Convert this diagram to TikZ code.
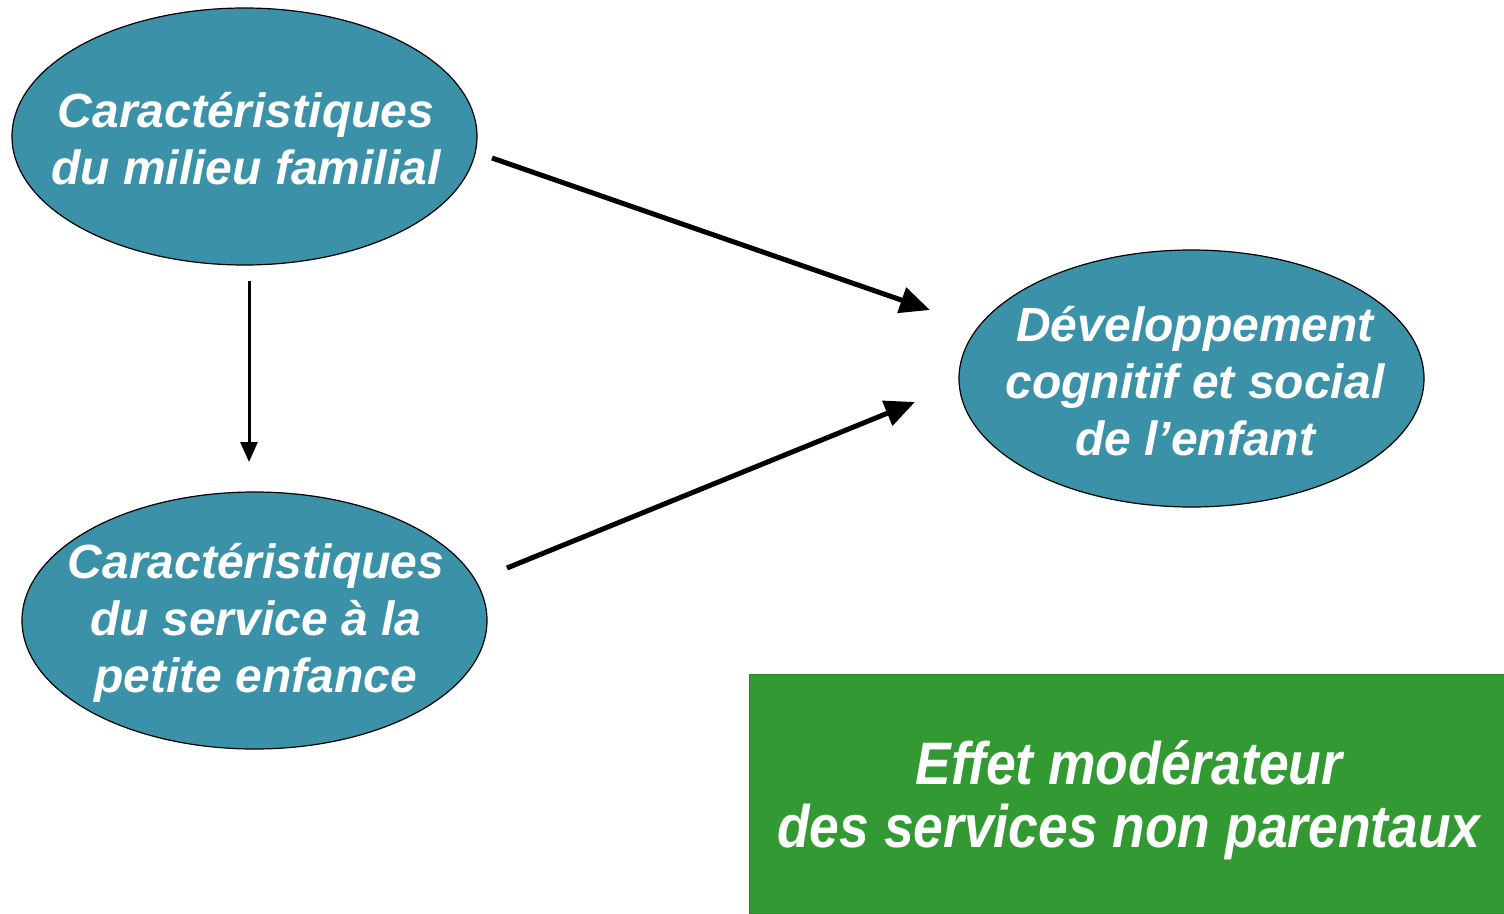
\documentclass[tikz,border=0pt]{standalone}
\usepackage{fontspec}
\setmainfont{Liberation Sans}
\newfontfamily\narrowfont[FakeStretch=0.89]{Liberation Sans}
\usetikzlibrary{shapes.geometric,arrows.meta}
\definecolor{teal1}{HTML}{3A91A8}
\definecolor{green1}{HTML}{339933}
\definecolor{green2}{HTML}{2A8A2A}
\tikzset{
  oval/.style={ellipse, draw=black, line width=1.2pt, fill=teal1, minimum width=465pt, minimum height=257pt, inner sep=0pt},
  ovaltext/.style={text=white, align=center, inner sep=0pt, font=\fontsize{48}{57}\selectfont\bfseries\itshape},
  bigarrow/.style={line width=5pt, -{Triangle[length=30pt,width=26pt]}},
  smallarrow/.style={line width=3pt, -{Triangle[length=20pt,width=17pt]}}
}
\begin{document}
\begin{tikzpicture}[x=1pt,y=-1pt]
\useasboundingbox (0,0) rectangle (1504,913);
\node[oval] (fam) at (244.5,136.5) {};
\node[ovaltext] (famt) at (246,139) {Caractéristiques\\du milieu familial};
\node[oval] (serv) at (254.5,620.5) {};
\node[ovaltext] (servt) at (256,623) {Caractéristiques\\du service à la\\petite enfance};
\node[oval] (dev) at (1191.5,378.5) {};
\node[ovaltext] (devt) at (1195,381) {Développement\\cognitif et social\\de l’enfant};
\node[draw=green2, line width=1.2pt, fill=green1, minimum width=755pt, minimum height=239pt, inner sep=0pt, anchor=north west] (box) at (748.5,673.5) {};
\node[text=white, align=center, inner sep=0pt, font=\narrowfont\fontsize{60}{63}\selectfont\bfseries\itshape] (boxt) at (1129,800)
  {Effet modérateur\\des services non parentaux};
\coordinate (a1s) at (492,158);
\coordinate (a1e) at (930,310);
\coordinate (a2s) at (507,568);
\coordinate (a2e) at (915,402);
\coordinate (a3s) at (249,281);
\coordinate (a3e) at (249,462);
\draw[bigarrow] (a1s) -- (a1e);
\draw[bigarrow] (a2s) -- (a2e);
\draw[smallarrow] (a3s) -- (a3e);
\end{tikzpicture}
\end{document}
